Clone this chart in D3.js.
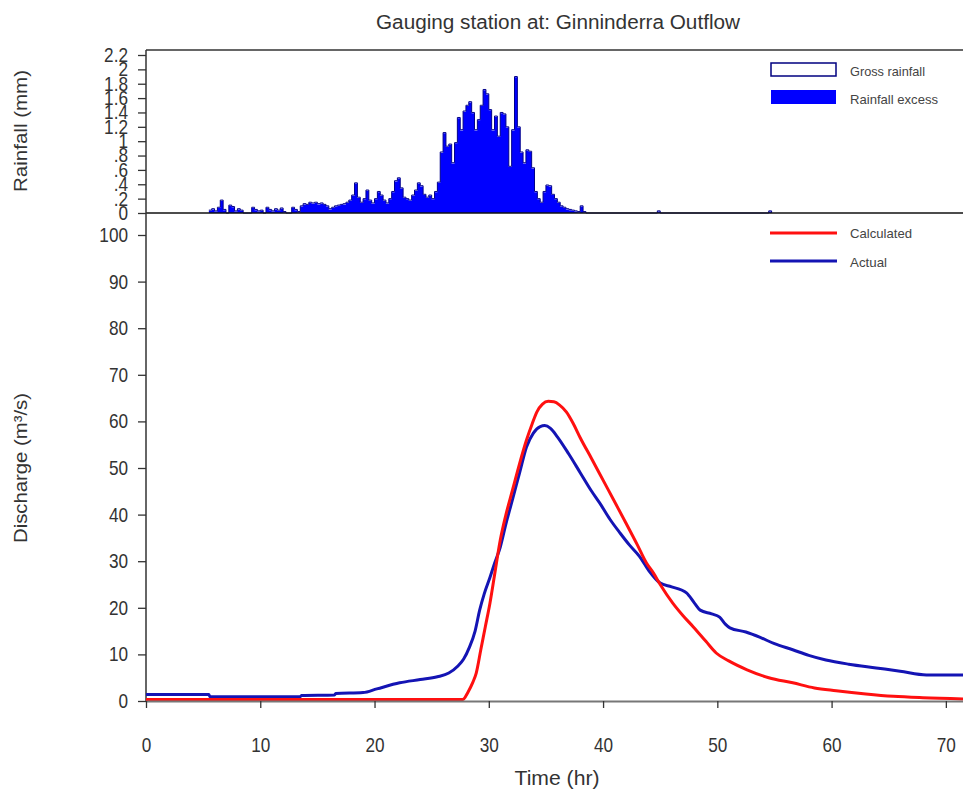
<!DOCTYPE html>
<html><head><meta charset="utf-8">
<script src="https://cdn.jsdelivr.net/npm/d3@7"></script>
<style>
html,body{margin:0;padding:0;background:#fff;}
svg{display:block;font-family:"Liberation Sans",Arial,sans-serif;}
</style></head>
<body>
<svg id="chart" width="963" height="796"></svg>
<script>
// ---------------- DATA ----------------
const titleText = "Gauging station at: Ginninderra Outflow";
const xTicks = [0, 10, 20, 30, 40, 50, 60, 70];
const qTicks = [0, 10, 20, 30, 40, 50, 60, 70, 80, 90, 100];
const rainTicks = [0, 0.2, 0.4, 0.6, 0.8, 1, 1.2, 1.4, 1.6, 1.8, 2, 2.2];

// rainfall bins (0.25 hr wide) starting at 5.5 hr
const rainStart = 5.5, rainStep = 0.25;
const grossRain = [
  0.04, 0.06,
  0.03, 0.08, 0.18, 0.05,
  0, 0.11, 0.09, 0.03,
  0.06, 0.04, 0, 0,
  0, 0.08, 0.05, 0.03,
  0.04, 0, 0.08, 0.05,
  0.03, 0.06, 0.04, 0.07,
  0.02, 0, 0, 0.08,
  0.05, 0.02, 0.10, 0.13,
  0.12, 0.15, 0.14, 0.15,
  0.13, 0.14, 0.12, 0.10,
  0.06, 0.08, 0.10, 0.11,
  0.12, 0.13, 0.15, 0.18,
  0.25, 0.42, 0.22, 0.15,
  0.20, 0.32, 0.18, 0.14,
  0.20, 0.30, 0.25, 0.18,
  0.14, 0.20, 0.30, 0.45,
  0.49, 0.35, 0.22, 0.20,
  0.18, 0.25, 0.32, 0.42,
  0.38, 0.26, 0.22, 0.25,
  0.20, 0.30, 0.43, 0.85,
  1.12, 0.93, 0.96, 0.70,
  0.98, 1.33, 1.16, 1.42,
  1.50, 1.55, 1.40, 1.16,
  1.30, 1.50, 1.72, 1.66,
  1.44, 1.16, 1.35, 1.07,
  1.40, 1.38, 1.20, 0.65,
  1.16, 1.90, 1.20, 0.85,
  0.70, 0.88, 0.86, 0.63,
  0.30, 0.20, 0.15, 0.30,
  0.39, 0.38, 0.26, 0.20,
  0.15, 0.10, 0.08, 0.06,
  0.05, 0.04, 0.03, 0.02,
  0.10, 0.02
];
const excessRain = [
  0.03, 0.05,
  0.02, 0.07, 0.17, 0.04,
  0, 0.10, 0.08, 0.02,
  0.05, 0.03, 0, 0,
  0, 0.07, 0.04, 0.02,
  0.03, 0, 0.07, 0.04,
  0.02, 0.05, 0.03, 0.06,
  0.01, 0, 0, 0.07,
  0.04, 0.01, 0.09, 0.12,
  0.11, 0.14, 0.13, 0.14,
  0.12, 0.13, 0.11, 0.09,
  0.05, 0.07, 0.09, 0.10,
  0.11, 0.12, 0.14, 0.17,
  0.24, 0.41, 0.21, 0.14,
  0.19, 0.31, 0.17, 0.13,
  0.19, 0.29, 0.24, 0.17,
  0.13, 0.19, 0.29, 0.44,
  0.48, 0.34, 0.21, 0.19,
  0.17, 0.24, 0.31, 0.41,
  0.37, 0.25, 0.21, 0.24,
  0.19, 0.29, 0.42, 0.84,
  1.11, 0.92, 0.95, 0.69,
  0.97, 1.32, 1.15, 1.41,
  1.49, 1.54, 1.39, 1.15,
  1.29, 1.49, 1.71, 1.65,
  1.43, 1.15, 1.34, 1.06,
  1.39, 1.37, 1.19, 0.64,
  1.15, 1.89, 1.19, 0.84,
  0.69, 0.87, 0.85, 0.62,
  0.29, 0.19, 0.14, 0.29,
  0.38, 0.37, 0.25, 0.19,
  0.14, 0.09, 0.07, 0.05,
  0.04, 0.03, 0.02, 0.01,
  0.09, 0.01
];
// isolated later bins
const extraRainTime = [44.75, 54.5];
const extraGross = [0.03, 0.03];
const extraExcess = [0.02, 0.02];

// discharge hydrographs
const actualTime = [0, 5.5, 5.6, 13.5, 13.6, 16.5, 16.6, 19, 20.2, 22.2, 24, 25.5, 26.5, 27.3, 27.8, 28.3, 28.8, 29.2, 29.6, 30.1, 30.5, 31, 31.5, 32.1, 32.7, 33.3, 33.9, 34.5, 34.9, 35.4, 36, 37, 38, 39, 39.7, 40.6, 41.5, 42.3, 43.2, 44, 45, 46, 47.3, 48, 48.5, 49.5, 50.2, 50.7, 51.1, 52.5, 53.7, 55, 56.6, 58, 59.5, 61.5, 63.9, 66, 68.3, 71.5];
const actualQ    = [1.4, 1.4, 0.9, 0.9, 1.2, 1.3, 1.6, 1.8, 2.6, 3.9, 4.6, 5.2, 6.0, 7.5, 9, 11.5, 15, 19.5, 23, 26.5, 29.5, 33, 38, 43.5, 49, 54.5, 57.5, 58.9, 59.1, 58.5, 56.7, 53, 49, 45, 42.5, 39, 36, 33.5, 31, 28, 25.3, 24.5, 23.2, 21, 19.5, 18.7, 18, 16.5, 15.7, 14.8, 13.7, 12.3, 11, 9.8, 8.8, 7.9, 7.1, 6.4, 5.6, 5.6];
const calcTime = [0, 27.7, 28.2, 28.6, 28.9, 29.3, 29.7, 30.1, 30.5, 31, 31.5, 32.1, 32.7, 33.3, 33.8, 34.2, 34.7, 35.2, 35.7, 36.2, 36.8, 37.4, 38, 39, 40, 41, 42, 43, 43.8, 44.4, 45, 46.1, 47, 47.9, 49, 49.9, 51, 52.6, 54.5, 56.6, 58.5, 60.4, 63, 65.4, 68, 71.5];
const calcQ    = [0.3, 0.3, 2, 4, 6, 11, 16, 21, 27, 34.5, 40, 45.5, 51, 56, 59.5, 62, 63.7, 64.3, 64.2, 63.5, 62, 59.5, 56.5, 52, 47.4, 42.8, 38.2, 33.5, 29.6, 27.5, 25, 21, 18.3, 15.9, 12.8, 10.3, 8.6, 6.7, 5, 3.9, 2.8, 2.2, 1.5, 1.0, 0.7, 0.45];

// ---------------- CHART ----------------
const svg = d3.select("#chart");
const left = 146, right = 963;
const x = d3.scaleLinear().domain([0, 71.5]).range([left, right]);
const yQ = d3.scaleLinear().domain([0, 100]).range([701, 235]);
const yR = d3.scaleLinear().domain([0, 2.2]).range([213, 55]);
const textCol = "#333";
const condenseK = 0.86;

function condense(sel, k) {
  sel.selectAll(".tick text").each(function () {
    const xv = +this.getAttribute("x") || 0;
    this.setAttribute("x", xv / k);
    this.setAttribute("transform", `scale(${k},1)`);
  });
}

svg.append("defs").append("clipPath").attr("id", "plotclip")
  .append("rect").attr("x", left).attr("y", 50).attr("width", right - left).attr("height", 660);

// Title
svg.append("text").attr("x", 558).attr("y", 29).attr("text-anchor", "middle")
  .attr("font-size", 20).attr("fill", textCol)
  .attr("textLength", 364).attr("lengthAdjust", "spacingAndGlyphs").text(titleText);

// Rainfall step series
function rainPoints(vals, extraT, extraV) {
  const bins = vals.map((v, i) => ({t: rainStart + i * rainStep, v}));
  extraT.forEach((t, i) => bins.push({t, v: extraV[i]}));
  const pts = [];
  bins.forEach((b, i) => {
    const end = b.t + rainStep;
    pts.push({t: b.t, v: b.v});
    const nxt = bins[i + 1];
    if (!nxt || Math.abs(nxt.t - end) > 1e-6) pts.push({t: end, v: 0});
  });
  return pts;
}
const excessPts = rainPoints(excessRain, extraRainTime, extraExcess);
const grossPts = rainPoints(grossRain, extraRainTime, extraGross);

const rg = svg.append("g").attr("clip-path", "url(#plotclip)");
rg.append("path").datum(excessPts)
  .attr("d", d3.area().curve(d3.curveStepAfter).x(d => x(d.t)).y0(yR(0)).y1(d => yR(d.v)))
  .attr("fill", "#0000ff");
rg.append("path").datum(grossPts)
  .attr("d", d3.line().curve(d3.curveStepAfter).x(d => x(d.t)).y(d => yR(d.v)))
  .attr("fill", "none").attr("stroke", "#00008b").attr("stroke-width", 1);

// rain baseline & top border
svg.append("line").attr("x1", left).attr("x2", right).attr("y1", yR(0)).attr("y2", yR(0))
  .attr("stroke", "#111").attr("stroke-width", 1.5);
svg.append("line").attr("x1", left).attr("x2", right).attr("y1", 50).attr("y2", 50)
  .attr("stroke", "#333").attr("stroke-width", 1.5);

// Rain axis
const fmtRain = d => d === 0 ? "0" : String(+d.toFixed(1)).replace(/^0\./, ".");
const rAx = svg.append("g").attr("transform", `translate(${left},0)`)
  .call(d3.axisLeft(yR).tickValues(rainTicks).tickFormat(fmtRain).tickSize(8).tickPadding(10).tickSizeOuter(0));
rAx.select(".domain").remove();
rAx.selectAll(".tick line").attr("stroke", "#333").attr("stroke-width", 1.3);
rAx.selectAll(".tick text").attr("font-size", 20).attr("fill", textCol);
rAx.attr("font-family", null).attr("font-size", null);
condense(rAx, condenseK);

// Discharge axis
const qAx = svg.append("g").attr("transform", `translate(${left},0)`)
  .call(d3.axisLeft(yQ).tickValues(qTicks).tickSize(8).tickPadding(10).tickSizeOuter(0));
qAx.select(".domain").remove();
qAx.selectAll(".tick line").attr("stroke", "#333").attr("stroke-width", 1.3);
qAx.selectAll(".tick text").attr("font-size", 20).attr("fill", textCol);
qAx.attr("font-family", null).attr("font-size", null);
condense(qAx, condenseK);

// left vertical axis line
svg.append("line").attr("x1", left).attr("x2", left).attr("y1", 50).attr("y2", 702)
  .attr("stroke", "#333").attr("stroke-width", 1.5);

// curves
const cg = svg.append("g").attr("clip-path", "url(#plotclip)");
const lineGen = d3.line().curve(d3.curveMonotoneX).x(d => x(d[0])).y(d => yQ(d[1]));
cg.append("path").datum(actualTime.map((t, i) => [t, actualQ[i]]))
  .attr("d", lineGen).attr("fill", "none").attr("stroke", "#1414b4").attr("stroke-width", 3)
  .attr("stroke-linejoin", "round");
cg.append("path").datum(calcTime.map((t, i) => [t, calcQ[i]]))
  .attr("d", lineGen).attr("fill", "none").attr("stroke", "#ff1010").attr("stroke-width", 3)
  .attr("stroke-linejoin", "round");

// X axis
const xAx = svg.append("g").attr("transform", `translate(0,${yQ(0)})`)
  .call(d3.axisBottom(x).tickValues(xTicks).tickSize(7).tickPadding(30).tickSizeOuter(0));
xAx.select(".domain").attr("stroke", "#777").attr("stroke-width", 2);
xAx.selectAll(".tick line").attr("stroke", "#333").attr("stroke-width", 1.3);
xAx.selectAll(".tick text").attr("font-size", 20).attr("fill", textCol);
xAx.attr("font-family", null).attr("font-size", null);
condense(xAx, condenseK);

// Axis titles
svg.append("text").attr("x", 557).attr("y", 785).attr("text-anchor", "middle")
  .attr("font-size", 20).attr("fill", textCol)
  .attr("textLength", 85).attr("lengthAdjust", "spacingAndGlyphs").text("Time (hr)");
svg.append("text").attr("transform", "translate(27,131) rotate(-90)").attr("text-anchor", "middle")
  .attr("font-size", 19).attr("fill", textCol)
  .attr("textLength", 122).attr("lengthAdjust", "spacingAndGlyphs").text("Rainfall (mm)");
svg.append("text").attr("transform", "translate(27,468) rotate(-90)").attr("text-anchor", "middle")
  .attr("font-size", 19).attr("fill", textCol)
  .attr("textLength", 150).attr("lengthAdjust", "spacingAndGlyphs").text("Discharge (m³/s)");

// Legends
const lg = svg.append("g").attr("font-size", 13).attr("fill", "#444");
lg.append("rect").attr("x", 771).attr("y", 63).attr("width", 65).attr("height", 13)
  .attr("fill", "#fff").attr("stroke", "#000080").attr("stroke-width", 1.5);
lg.append("text").attr("x", 850).attr("y", 76).attr("textLength", 75).attr("lengthAdjust", "spacingAndGlyphs").text("Gross rainfall");
lg.append("rect").attr("x", 771).attr("y", 90).attr("width", 65).attr("height", 14).attr("fill", "#0000ff");
lg.append("text").attr("x", 850).attr("y", 104).attr("textLength", 88).attr("lengthAdjust", "spacingAndGlyphs").text("Rainfall excess");
lg.append("line").attr("x1", 770).attr("x2", 837).attr("y1", 233).attr("y2", 233)
  .attr("stroke", "#ff1010").attr("stroke-width", 3);
lg.append("text").attr("x", 850).attr("y", 238).attr("textLength", 62).attr("lengthAdjust", "spacingAndGlyphs").text("Calculated");
lg.append("line").attr("x1", 770).attr("x2", 837).attr("y1", 261).attr("y2", 261)
  .attr("stroke", "#1414b4").attr("stroke-width", 3);
lg.append("text").attr("x", 850).attr("y", 267).attr("textLength", 37).attr("lengthAdjust", "spacingAndGlyphs").text("Actual");
</script>
</body></html>
